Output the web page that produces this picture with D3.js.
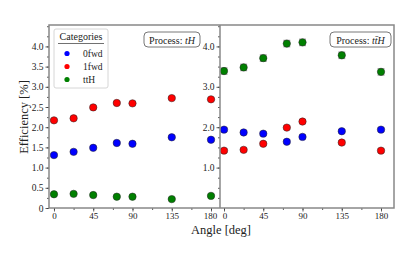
<!DOCTYPE html>
<html>
<head>
<meta charset="utf-8">
<script src="https://cdn.jsdelivr.net/npm/d3@7"></script>
<style>
  body { margin: 0; background: #fff; }
  svg text { font-family: "Liberation Serif", "DejaVu Serif", serif; }
</style>
</head>
<body>
<svg id="chart" width="415" height="260"></svg>
<script>
// angles (deg) used in both panels
const angles = [0, 22.5, 45, 72, 90, 135, 180];
const categories = ["0fwd", "1fwd", "ttH"];
const catColors = ["#0000ff", "#ff0000", "#008000"];

// Process tH
const tH_0fwd = [1.31, 1.39, 1.49, 1.61, 1.59, 1.75, 1.69];
const tH_1fwd = [2.17, 2.22, 2.49, 2.60, 2.59, 2.72, 2.69];
const tH_ttH  = [0.34, 0.35, 0.32, 0.28, 0.28, 0.22, 0.30];
const tH_err  = [0.03, 0.03, 0.02];

// Process ttH
const ttH_0fwd = [1.94, 1.87, 1.84, 1.64, 1.76, 1.90, 1.94];
const ttH_1fwd = [1.42, 1.44, 1.59, 1.99, 2.14, 1.62, 1.42];
const ttH_ttH  = [3.39, 3.48, 3.71, 4.07, 4.10, 3.78, 3.37];
const ttH_err  = [0.04, 0.04, 0.08];

const xTicks = [0, 45, 90, 135, 180];

const svg = d3.select("#chart");
const plotTop = 25, plotBottom = 208;

const y = d3.scaleLinear().domain([0, 4.53]).range([plotBottom, plotTop]);

const panels = [
    {x0: 49, x1: 220, dom: [-5.7, 190.3], series: [tH_0fwd, tH_1fwd, tH_ttH], err: tH_err,
     yMajor: d3.range(0, 4.01, 0.5), yMinor: d3.range(0, 4.51, 0.25), fmt: d => d === 0 ? "0" : d3.format(".1f")(d)},
    {x0: 220, x1: 394, dom: [-4.6, 194.9], series: [ttH_0fwd, ttH_1fwd, ttH_ttH], err: ttH_err,
     yMajor: [1, 2, 3, 4], yMinor: d3.range(0.25, 4.51, 0.25), fmt: d3.format(".1f")}
];

panels.forEach(function(p, pi) {
    let x = d3.scaleLinear().domain(p.dom).range([p.x0, p.x1]);
    let g = svg.append("g");

    // x axis
    g.append("g")
        .attr("transform", "translate(0," + plotBottom + ")")
        .call(d3.axisBottom(x).tickValues(d3.range(0, 181, 22.5)).tickSize(2).tickFormat(""))
        .call(a => a.select(".domain").remove());
    g.append("g")
        .attr("transform", "translate(0," + plotBottom + ")")
        .call(d3.axisBottom(x).tickValues(xTicks).tickSize(3.5).tickPadding(1.5).tickFormat(d3.format("d")))
        .call(a => a.select(".domain").remove())
        .selectAll("text").attr("font-size", 9).attr("fill", "#222")
        .attr("dx", d => pi === 0 && d === 180 ? -1 : (pi === 1 && d === 0 ? 0.5 : 0));

    // y axis
    g.append("g")
        .attr("transform", "translate(" + p.x0 + ",0)")
        .call(d3.axisLeft(y).tickValues(p.yMinor).tickSize(2).tickFormat(""))
        .call(a => a.select(".domain").remove());
    g.append("g")
        .attr("transform", "translate(" + p.x0 + ",0)")
        .call(d3.axisLeft(y).tickValues(p.yMajor).tickSize(3.5).tickPadding(2).tickFormat(p.fmt))
        .call(a => a.select(".domain").remove())
        .selectAll("text").attr("font-size", 9.5).attr("fill", "#222");

    g.selectAll(".tick line").attr("stroke", "#333").attr("stroke-width", 0.8);

    // points with error bars
    p.series.forEach(function(vals, si) {
        let e = p.err[si];
        let pts = g.append("g");
        vals.forEach(function(v, i) {
            let cx = x(angles[i]);
            pts.append("line").attr("x1", cx).attr("x2", cx)
                .attr("y1", y(v - e)).attr("y2", y(v + e))
                .attr("stroke", "#aaa").attr("stroke-width", 1.2);
            [v - e, v + e].forEach(function(c) {
                pts.append("line").attr("x1", cx - 3.5).attr("x2", cx + 3.5)
                    .attr("y1", y(c)).attr("y2", y(c))
                    .attr("stroke", "#aaa").attr("stroke-width", 1.2);
            });
        });
        pts.selectAll("circle").data(vals).enter().append("circle")
            .attr("cx", (d, i) => x(angles[i]))
            .attr("cy", d => y(d))
            .attr("r", 3.7)
            .attr("fill", catColors[si])
            .attr("stroke", "#222")
            .attr("stroke-width", 0.5);
    });

    // process label box
    let bx = p.x1 - (pi === 0 ? 76 : 64), bw = pi === 0 ? 56 : 61;
    g.append("rect").attr("x", bx).attr("y", 32).attr("width", bw).attr("height", 15)
        .attr("rx", 4).attr("fill", "#fff").attr("stroke", "#555").attr("stroke-width", 0.8);
    let t = g.append("text").attr("x", bx + bw / 2).attr("y", 43.5)
        .attr("text-anchor", "middle").attr("font-size", 10).attr("fill", "#222");
    t.append("tspan").text("Process: ");
    if (pi === 0) {
        t.append("tspan").attr("font-style", "italic").text("tH");
    } else {
        t.append("tspan").attr("font-style", "italic").text("t\u0074\u0304H");
    }
});

// frame
svg.append("rect").attr("x", 49).attr("y", plotTop).attr("width", 394 - 49).attr("height", plotBottom - plotTop)
    .attr("fill", "none").attr("stroke", "#888").attr("stroke-width", 1.5);
svg.append("line").attr("x1", 220).attr("x2", 220).attr("y1", plotTop).attr("y2", plotBottom)
    .attr("stroke", "#888").attr("stroke-width", 1.5);

// legend
let lg = svg.append("g");
lg.append("rect").attr("x", 54).attr("y", 29).attr("width", 54).attr("height", 59)
    .attr("rx", 2).attr("fill", "#fff").attr("stroke", "#ccc").attr("stroke-width", 0.8);
lg.append("text").attr("x", 81).attr("y", 40).attr("text-anchor", "middle")
    .attr("font-size", 10).attr("fill", "#222").text("Categories");
lg.append("line").attr("x1", 58).attr("x2", 104).attr("y1", 43.5).attr("y2", 43.5)
    .attr("stroke", "#333").attr("stroke-width", 0.7);
categories.forEach(function(c, i) {
    let cy = 53.5 + i * 13;
    lg.append("circle").attr("cx", 67).attr("cy", cy).attr("r", 2.6).attr("fill", catColors[i]);
    lg.append("text").attr("x", 83).attr("y", cy + 3.3).attr("font-size", 9.5)
        .attr("fill", "#222").text(c);
});

// axis labels
svg.append("text").attr("transform", "translate(28,117) rotate(-90)")
    .attr("text-anchor", "middle").attr("font-size", 12.5).attr("fill", "#222").text("Efficiency [%]");
svg.append("text").attr("x", 221).attr("y", 234).attr("text-anchor", "middle")
    .attr("font-size", 12.5).attr("fill", "#222").text("Angle [deg]");
</script>
</body>
</html>
